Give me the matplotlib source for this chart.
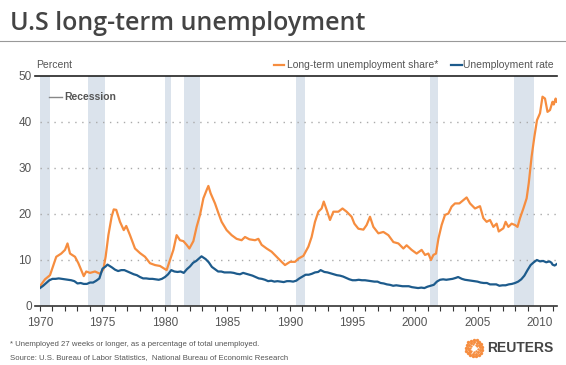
import numpy as np
import matplotlib
matplotlib.use("Agg")
import matplotlib.pyplot as plt

# long-term unemployment share (% of unemployed, 27 weeks+)
share_years = [1970.0, 1970.4, 1970.8, 1971.07, 1971.3, 1971.7, 1972.0, 1972.2, 1972.4, 1972.8,
               1973.07, 1973.3, 1973.5, 1973.7, 1974.0, 1974.4, 1974.8, 1975.07, 1975.25, 1975.47,
               1975.73, 1975.9, 1976.1, 1976.4, 1976.7, 1976.9, 1977.2, 1977.6, 1978.0, 1978.4,
               1978.8, 1979.2, 1979.6, 1980.0, 1980.13, 1980.4, 1980.67, 1980.93, 1981.2, 1981.47,
               1981.73, 1981.95, 1982.27, 1982.53, 1982.8, 1983.07, 1983.33, 1983.47, 1983.65, 1984.0,
               1984.27, 1984.53, 1984.93, 1985.33, 1985.73, 1986.13, 1986.4, 1986.75, 1987.2, 1987.47,
               1987.73, 1988.13, 1988.53, 1988.93, 1989.33, 1989.6, 1990.0, 1990.4, 1990.67, 1991.07,
               1991.47, 1991.73, 1992.0, 1992.27, 1992.53, 1992.7, 1992.93, 1993.2, 1993.47, 1993.87,
               1994.2, 1994.53, 1994.93, 1995.15, 1995.47, 1995.87, 1996.13, 1996.4, 1996.67, 1997.07,
               1997.47, 1997.87, 1998.27, 1998.67, 1999.07, 1999.33, 1999.73, 2000.13, 2000.53, 2000.8,
               2001.07, 2001.28, 2001.47, 2001.68, 2001.87, 2002.13, 2002.4, 2002.67, 2002.93, 2003.2,
               2003.55, 2003.73, 2004.13, 2004.4, 2004.8, 2005.2, 2005.47, 2005.73, 2006.0, 2006.27,
               2006.53, 2006.7, 2007.07, 2007.25, 2007.47, 2007.73, 2008.0, 2008.2, 2008.4, 2008.67,
               2008.93, 2009.1, 2009.33, 2009.55, 2009.76, 2010.0, 2010.2, 2010.4, 2010.6, 2010.8,
               2011.0, 2011.1, 2011.25, 2011.33]
share_vals = [4.3, 5.8, 6.7, 8.9, 10.7, 11.4, 12.2, 13.6, 11.4, 10.7,
              9.3, 7.8, 6.5, 7.5, 7.2, 7.5, 7.0, 8.0, 10.7, 15.4,
              19.4, 21.0, 20.9, 18.3, 16.5, 17.4, 15.4, 12.5, 11.5, 10.7,
              9.3, 8.9, 8.7, 8.0, 7.8, 10.0, 12.2, 15.4, 14.3, 14.1,
              13.3, 12.5, 14.1, 17.2, 19.8, 23.4, 25.2, 26.1, 24.5, 22.3,
              20.2, 18.3, 16.5, 15.4, 14.6, 14.3, 15.0, 14.5, 14.3, 14.6,
              13.3, 12.5, 11.8, 10.7, 9.6, 8.9, 9.6, 9.6, 10.3, 10.9,
              12.9, 15.0, 18.3, 20.5, 21.2, 22.7, 20.9, 18.7, 20.5, 20.5,
              21.2, 20.5, 19.4, 17.9, 16.8, 16.6, 17.6, 19.4, 17.2, 15.8,
              16.1, 15.4, 13.9, 13.6, 12.5, 13.2, 12.2, 11.4, 12.2, 11.1,
              11.4, 10.0, 11.1, 11.4, 14.6, 17.6, 19.8, 20.1, 21.6, 22.3,
              22.3, 22.7, 23.6, 22.3, 21.2, 21.7, 19.1, 18.3, 18.7, 17.2,
              17.9, 16.2, 16.9, 18.3, 17.2, 17.9, 17.6, 17.2, 19.1, 21.2,
              23.4, 26.7, 32.5, 36.8, 40.4, 41.9, 45.5, 45.1, 42.2, 42.6,
              44.4, 43.8, 45.1, 44.4]

# unemployment rate (%)
rate_years = [1970.0, 1970.25, 1970.5, 1970.75, 1971.0, 1971.25, 1971.5, 1971.75, 1972.0, 1972.25,
              1972.5, 1972.75, 1973.0, 1973.25, 1973.5, 1973.75, 1974.0, 1974.25, 1974.5, 1974.75,
              1975.0, 1975.25, 1975.4, 1975.75, 1976.0, 1976.25, 1976.5, 1976.75, 1977.0, 1977.25,
              1977.5, 1977.75, 1978.0, 1978.25, 1978.5, 1978.75, 1979.0, 1979.25, 1979.5, 1979.75,
              1980.0, 1980.25, 1980.5, 1980.75, 1981.0, 1981.25, 1981.5, 1981.75, 1982.0, 1982.25,
              1982.5, 1982.75, 1982.92, 1983.25, 1983.5, 1983.75, 1984.0, 1984.25, 1984.5, 1984.75,
              1985.0, 1985.25, 1985.5, 1985.75, 1986.0, 1986.25, 1986.5, 1986.75, 1987.0, 1987.25,
              1987.5, 1987.75, 1988.0, 1988.25, 1988.5, 1988.75, 1989.0, 1989.25, 1989.5, 1989.75,
              1990.0, 1990.25, 1990.5, 1990.75, 1991.0, 1991.25, 1991.5, 1991.75, 1992.0, 1992.25,
              1992.45, 1992.75, 1993.0, 1993.25, 1993.5, 1993.75, 1994.0, 1994.25, 1994.5, 1994.75,
              1995.0, 1995.25, 1995.5, 1995.75, 1996.0, 1996.25, 1996.5, 1996.75, 1997.0, 1997.25,
              1997.5, 1997.75, 1998.0, 1998.25, 1998.5, 1998.75, 1999.0, 1999.25, 1999.5, 1999.75,
              2000.0, 2000.25, 2000.5, 2000.75, 2001.0, 2001.25, 2001.5, 2001.75, 2002.0, 2002.25,
              2002.5, 2002.75, 2003.0, 2003.25, 2003.45, 2003.75, 2004.0, 2004.25, 2004.5, 2004.75,
              2005.0, 2005.25, 2005.5, 2005.75, 2006.0, 2006.25, 2006.5, 2006.75, 2007.0, 2007.25,
              2007.5, 2007.75, 2008.0, 2008.25, 2008.5, 2008.75, 2009.0, 2009.25, 2009.5, 2009.75,
              2010.0, 2010.25, 2010.5, 2010.75, 2010.92, 2011.0, 2011.17, 2011.33]
rate_vals = [3.9, 4.4, 5.0, 5.6, 5.9, 5.9, 6.0, 5.9, 5.8, 5.7,
             5.6, 5.4, 4.9, 5.0, 4.8, 4.8, 5.1, 5.1, 5.5, 6.0,
             8.1, 8.6, 9.0, 8.4, 7.9, 7.6, 7.8, 7.8, 7.5, 7.2,
             6.9, 6.7, 6.3, 6.0, 6.0, 5.9, 5.9, 5.8, 5.7, 5.9,
             6.3, 6.9, 7.8, 7.5, 7.4, 7.5, 7.2, 8.0, 8.6, 9.4,
             9.8, 10.4, 10.8, 10.2, 9.5, 8.5, 8.0, 7.5, 7.5, 7.3,
             7.3, 7.3, 7.2, 7.0, 6.9, 7.2, 7.0, 6.8, 6.6, 6.3,
             6.0, 5.9, 5.7, 5.4, 5.5, 5.3, 5.4, 5.3, 5.2, 5.4,
             5.4, 5.3, 5.5, 6.0, 6.4, 6.8, 6.8, 7.0, 7.3, 7.4,
             7.8, 7.4, 7.3, 7.1, 6.9, 6.7, 6.6, 6.4, 6.1, 5.8,
             5.6, 5.6, 5.7, 5.6, 5.6, 5.5, 5.4, 5.3, 5.3, 5.0,
             4.9, 4.7, 4.6, 4.4, 4.5, 4.4, 4.3, 4.3, 4.3, 4.1,
             4.0, 3.9, 4.0, 3.9, 4.2, 4.4, 4.6, 5.3, 5.7, 5.8,
             5.7, 5.8, 5.9, 6.1, 6.3, 5.9, 5.7, 5.6, 5.5, 5.4,
             5.3, 5.1, 5.0, 5.0, 4.7, 4.7, 4.7, 4.4, 4.5, 4.5,
             4.7, 4.8, 5.0, 5.3, 5.8, 6.6, 7.8, 8.9, 9.5, 10.0,
             9.7, 9.8, 9.5, 9.7, 9.4, 9.0, 8.8, 9.1]

# NBER recessions (start, end) in decimal years
rec_start = [1969.92, 1973.83, 1980.0, 1981.5, 1990.5, 2001.17, 2007.92]
rec_end = [1970.83, 1975.17, 1980.5, 1982.83, 1991.17, 2001.83, 2009.5]

xticks = [1970, 1975, 1980, 1985, 1990, 1995, 2000, 2005, 2010]
yticks = [0, 10, 20, 30, 40, 50]

ORANGE = '#f68d3f'
BLUE = '#1d5b8c'
GREY = '#555555'

plt.rcParams['font.family'] = ['Liberation Sans', 'DejaVu Sans']

fig = plt.figure(figsize=(5.66, 3.65), dpi=100)
ax = fig.add_axes([40 / 566, 1 - 306 / 365, 517 / 566, 230 / 365])

x0, x1 = 1970, 1970 + 517 / 12.5
ax.set_xlim(x0, x1)
ax.set_ylim(0, 50)

for s, e in zip(rec_start, rec_end):
    ax.axvspan(max(s, x0), e, color='#dbe3ec', lw=0, zorder=0)

for v in yticks[1:-1]:
    ax.axhline(v, color='#aaaaaa', lw=1, ls=(0, (1, 4)), zorder=1)

ax.plot(share_years, share_vals, color=ORANGE, lw=1.6, zorder=3)
ax.plot(rate_years, rate_vals, color=BLUE, lw=1.6, zorder=3)

# axis lines (bottom axis and top 50 line start left of the plot area)
ax.plot([x0 - 0.4, x1], [0, 0], color='#333333', lw=1.2, clip_on=False, zorder=4)
ax.plot([x0 - 0.4, x1], [50, 50], color='#222222', lw=1.2, clip_on=False, zorder=4)

for sp in ax.spines.values():
    sp.set_visible(False)

ax.set_xticks(xticks)
ax.set_xticks(np.arange(1970, 2012), minor=True)
ax.tick_params(axis='x', which='both', length=3.5, width=0.8, color='#333333', direction='out',
               labelsize=8.5, labelcolor=GREY, pad=4.5)
ax.set_yticks(yticks)
ax.tick_params(axis='y', length=0, labelsize=8.5, labelcolor=GREY, pad=6)
ax.set_facecolor('white')

# title and rule
fig.text(10 / 566, 1 - 30 / 365, 'U.S long-term unemployment', fontsize=18, color='#444444',
         family=['Open Sans', 'DejaVu Sans'], fontweight='semibold', va='baseline', ha='left')
fig.add_artist(plt.Line2D([0, 1], [1 - 41 / 365, 1 - 41 / 365], color='#999999', lw=0.8))

fig.text(36 / 566, 1 - 65 / 365, 'Percent', fontsize=7.5, color=GREY, va='center', ha='left')

# legend
fig.add_artist(plt.Line2D([274 / 566, 284 / 566], [1 - 65 / 365] * 2, color=ORANGE, lw=1.6))
fig.text(287 / 566, 1 - 65 / 365, 'Long-term unemployment share*', fontsize=7.5, color=GREY,
         va='center', ha='left')
fig.add_artist(plt.Line2D([451 / 566, 462 / 566], [1 - 65 / 365] * 2, color=BLUE, lw=1.6))
fig.text(463 / 566, 1 - 65 / 365, 'Unemployment rate', fontsize=7.5, color=GREY,
         va='center', ha='left')

fig.add_artist(plt.Line2D([49 / 566, 62 / 566], [1 - 97 / 365] * 2, color='#888888', lw=1))
fig.text(64 / 566, 1 - 97 / 365, 'Recession', fontsize=7.5, color=GREY, fontweight='bold',
         va='center', ha='left')

# footnotes
fig.text(10 / 566, 1 - 345 / 365, '* Unemployed 27 weeks or longer, as a percentage of total unemployed.',
         fontsize=5.6, color=GREY, va='center', ha='left')
fig.text(10 / 566, 1 - 358 / 365,
         'Source: U.S. Bureau of Labor Statistics,  National Bureau of Economic Research',
         fontsize=5.6, color=GREY, va='center', ha='left')

# Reuters logo: ring of dots around an empty centre
lax = fig.add_axes([464 / 566, 1 - 358 / 365, 20 / 566, 20 / 365])
lax.set_xlim(-1.1, 1.1)
lax.set_ylim(-1.1, 1.1)
lax.axis('off')
for r, n, sz in [(0.42, 9, 3), (0.64, 13, 4.5), (0.88, 17, 6)]:
    ang = np.linspace(0, 2 * np.pi, n, endpoint=False) + r
    lax.scatter(r * np.cos(ang), r * np.sin(ang), s=sz, color=ORANGE, lw=0)
fig.text(487 / 566, 1 - 348 / 365, 'REUTERS', fontsize=10, fontweight='bold', color='#444444',
         va='center', ha='left')

fig.savefig('out.png', dpi=100)
